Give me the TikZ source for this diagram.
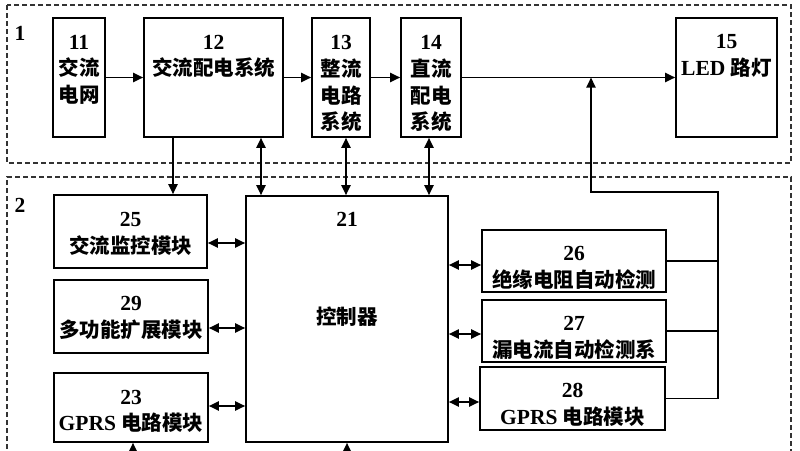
\documentclass[tikz,border=0pt]{standalone}
\usepackage{fontspec}
\setmainfont{Liberation Serif}
\newfontfamily\cjk{Noto Sans CJK SC}
\usetikzlibrary{arrows.meta}
\newcommand{\zh}[1]{{\cjk\fontsize{20.5}{24}\selectfont #1}}
\tikzset{
  box/.style={draw, line width=1.6pt, inner sep=0pt, fill=white},
  txt/.style={inner sep=0pt, font=\bfseries\fontsize{21.5}{25}\selectfont},
  arr/.style={line width=1.9pt, -{Triangle[length=10pt,width=9pt]}},
  darr/.style={line width=1.9pt, {Triangle[length=10pt,width=9pt]}-{Triangle[length=10pt,width=9pt]}},
  wire/.style={line width=1.9pt},
  grp/.style={line width=1.2pt, dash pattern=on 5pt off 3pt, draw=black!80}
}
\begin{document}
\begin{tikzpicture}[x=1pt,y=-1pt]
\useasboundingbox (0,0) rectangle (800,450);
\fill[white] (0,0) rectangle (800,450);
% group frames
\draw[grp] (7,5) rectangle (791,163);
\draw[grp] (7,465) -- (7,177) -- (791,177) -- (791,465);
\node[txt] (g1) at (20,33) {1};
\node[txt] (g2) at (20,205) {2};
% boxes
\node[box, minimum width=52pt, minimum height=119pt] (n11) at (79,77.5) {};
\node[box, minimum width=139pt, minimum height=119pt] (n12) at (213.5,77.5) {};
\node[box, minimum width=58pt, minimum height=119pt] (n13) at (341,77.5) {};
\node[box, minimum width=60pt, minimum height=119pt] (n14) at (431,77.5) {};
\node[box, minimum width=101pt, minimum height=119pt] (n15) at (726.5,77.5) {};
\node[box, minimum width=153pt, minimum height=73pt] (n25) at (130.5,231.5) {};
\node[box, minimum width=154pt, minimum height=73pt] (n29) at (131,316.5) {};
\node[box, minimum width=154pt, minimum height=69pt] (n23) at (131,407.5) {};
\node[box, minimum width=202pt, minimum height=246pt] (n21) at (347,319) {};
\node[box, minimum width=184pt, minimum height=62pt] (n26) at (574,261) {};
\node[box, minimum width=184pt, minimum height=62pt] (n27) at (574,331) {};
\node[box, minimum width=185pt, minimum height=63pt] (n28) at (572.5,398.5) {};
% texts
\node[txt] (t11a) at (79,42) {11};
\node[txt] (t11b) at (79,68) {\zh{交流}};
\node[txt] (t11c) at (79,95) {\zh{电网}};
\node[txt] (t12a) at (213.5,42) {12};
\node[txt] (t12b) at (213.5,68) {\zh{交流配电系统}};
\node[txt] (t13a) at (341,42) {13};
\node[txt] (t13b) at (341,69) {\zh{整流}};
\node[txt] (t13c) at (341,96) {\zh{电路}};
\node[txt] (t13d) at (341,122) {\zh{系统}};
\node[txt] (t14a) at (431,42) {14};
\node[txt] (t14b) at (431,69) {\zh{直流}};
\node[txt] (t14c) at (431,96) {\zh{配电}};
\node[txt] (t14d) at (431,122) {\zh{系统}};
\node[txt] (t15a) at (726.5,42) {15};
\node[txt] (t15b) at (726.5,68) {LED \zh{路灯}};
\node[txt] (t25a) at (130.5,219) {25};
\node[txt] (t25b) at (130.5,246) {\zh{交流监控模块}};
\node[txt] (t29a) at (131,303) {29};
\node[txt] (t29b) at (131,330) {\zh{多功能扩展模块}};
\node[txt] (t23a) at (131,397) {23};
\node[txt] (t23b) at (131,423) {GPRS \zh{电路模块}};
\node[txt] (t21a) at (347,219) {21};
\node[txt] (t21b) at (347,317) {\zh{控制器}};
\node[txt] (t26a) at (574,253) {26};
\node[txt] (t26b) at (574,280) {\zh{绝缘电阻自动检测}};
\node[txt] (t27a) at (574,323) {27};
\node[txt] (t27b) at (574,350) {\zh{漏电流自动检测系}};
\node[txt] (t28a) at (572.5,390) {28};
\node[txt] (t28b) at (572.5,417) {GPRS \zh{电路模块}};
% top chain
\draw[arr] (n11.east) -- (n12.west);
\draw[arr] (n12.east) -- (n13.west);
\draw[arr] (n13.east) -- (n14.west);
\draw[arr] (n14.east) -- (n15.west);
% feedback from detection modules
\coordinate (j) at (591,77.5);
\coordinate (c1) at (718,192);
\draw[wire] (n28.east) -| (c1) -| (591,110);
\draw[arr] (591,110) -- (j);
\draw[wire] (n26.east) -- (n26.east -| c1);
\draw[wire] (n27.east) -- (n27.east -| c1);
% vertical links between groups
\draw[arr] ([xshift=-40.5pt]n12.south) -- ([xshift=-40.5pt]n12.south |- n25.north);
\draw[darr] ([xshift=47.5pt]n12.south) -- ([xshift=47.5pt]n12.south |- n21.north);
\draw[darr] ([xshift=5pt]n13.south) -- ([xshift=5pt]n13.south |- n21.north);
\draw[darr] ([xshift=-2pt]n14.south) -- ([xshift=-2pt]n14.south |- n21.north);
% left side links
\draw[darr] ([yshift=-11.5pt]n25.east) -- ([yshift=-11.5pt]n25.east -| n21.west);
\draw[darr] ([yshift=-11.5pt]n29.east) -- ([yshift=-11.5pt]n29.east -| n21.west);
\draw[darr] ([yshift=1.5pt]n23.east) -- ([yshift=1.5pt]n23.east -| n21.west);
% right side links
\draw[darr] ([yshift=-4pt]n26.west -| n21.east) -- ([yshift=-4pt]n26.west);
\draw[darr] ([yshift=-3pt]n27.west -| n21.east) -- ([yshift=-3pt]n27.west);
\draw[darr] ([yshift=-3.5pt]n28.west -| n21.east) -- ([yshift=-3.5pt]n28.west);
% links from below
\coordinate (b23) at (133,470);
\coordinate (b21) at (347,470);
\draw[arr] (b23) -- (b23 |- n23.south);
\draw[arr] (b21) -- (b21 |- n21.south);
\end{tikzpicture}
\end{document}
